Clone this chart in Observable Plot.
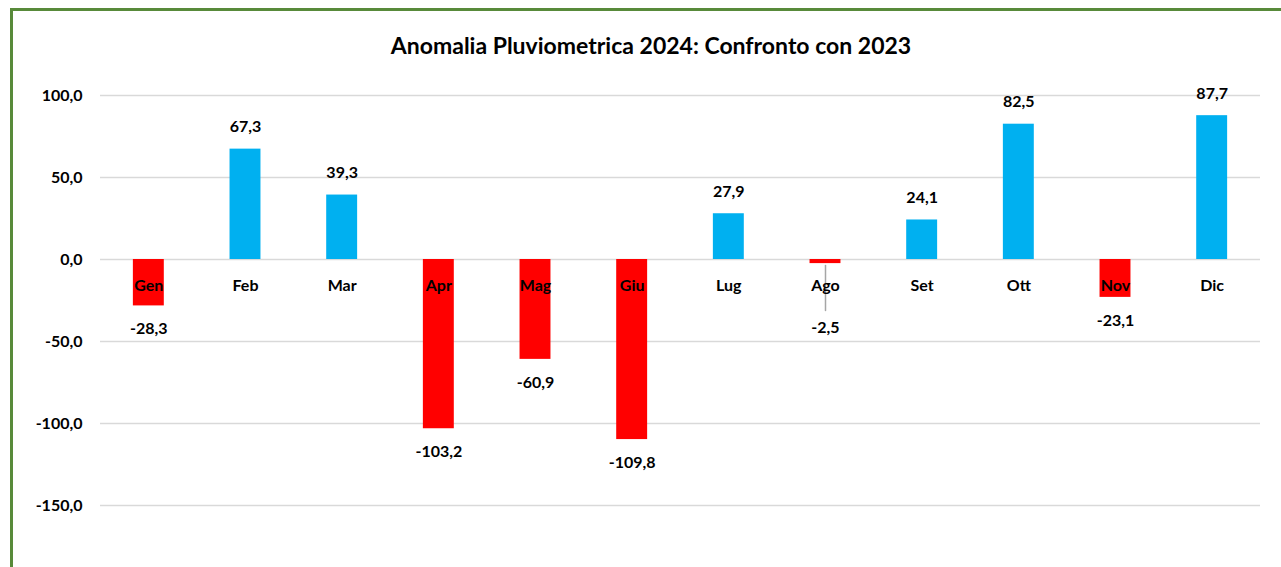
<!DOCTYPE html>
<html>
<head>
<meta charset="utf-8">
<script src="https://cdn.jsdelivr.net/npm/d3@7"></script>
<script src="https://cdn.jsdelivr.net/npm/@observablehq/plot@0.6"></script>
<style>
  html, body { margin: 0; padding: 0; background: #fff; overflow: hidden; }
  #wrap { position: relative; width: 1281px; height: 567px; font-family: Lato, "Open Sans", sans-serif; }
  #frame { position: absolute; left: 10px; top: 8px; width: 1300px; height: 600px;
           border-left: 3px solid #588A3A; border-top: 3px solid #588A3A; box-sizing: border-box; }
  #title { position: absolute; top: 31px; left: 0; width: 1302px; text-align: center;
           font-size: 23px; font-weight: bold; color: #000; line-height: 28px; }
  #chart { position: absolute; left: 0; top: 0; }
</style>
</head>
<body>
<div id="wrap">
  <div id="chart"></div>
  <div id="frame"></div>
  <div id="title">Anomalia Pluviometrica 2024: Confronto con 2023</div>
</div>
<script>
const months = ["Gen","Feb","Mar","Apr","Mag","Giu","Lug","Ago","Set","Ott","Nov","Dic"];
const anomalies = [-28.3, 67.3, 39.3, -103.2, -60.9, -109.8, 27.9, -2.5, 24.1, 82.5, -23.1, 87.7];
const yTicks = [-150, -100, -50, 0, 50, 100];

const data = months.map((m, i) => ({month: m, value: anomalies[i]}));
const fmt = v => v.toFixed(1).replace(".", ",");
const pos = data.filter(d => d.value >= 0);
const neg = data.filter(d => d.value < 0 && d.value <= -5);
const small = data.filter(d => d.value < 0 && d.value > -5);

const leader = {
  draw(context, l) { context.moveTo(0, 0); context.lineTo(0, -l); }
};

const chart = Plot.plot({
  width: 1281,
  height: 567,
  marginLeft: 100,
  marginRight: 21,
  marginTop: 95,
  marginBottom: 62,
  style: {fontFamily: "Lato, 'Open Sans', sans-serif", background: "transparent"},
  x: {domain: months, paddingInner: 0.68, paddingOuter: 0.34, round: false, axis: null},
  y: {domain: [-150, 100], axis: null, label: null},
  marks: [
    Plot.gridY(yTicks, {stroke: "#D9D9D9", strokeOpacity: 1, strokeWidth: 1.5}),
    Plot.axisY({ticks: yTicks, tickSize: 0, tickPadding: 18, tickFormat: fmt, label: null,
                fontSize: 16, fontWeight: "bold", fill: "#000"}),
    Plot.barY(data, {x: "month", y: "value", fill: d => d.value >= 0 ? "#00B0F0" : "#FF0000"}),
    Plot.vector(small, {x: "month", y: "value", length: 45, rotate: 180, anchor: "start",
                        shape: leader, stroke: "#A6A6A6", strokeWidth: 1.5, dy: 2}),
    Plot.text(data, {x: "month", y: () => 0, text: "month", dy: 26,
                     fontSize: 16, fontWeight: "bold", fill: "#000"}),
    Plot.text(pos, {x: "month", y: "value", text: d => fmt(d.value), dy: -22,
                    fontSize: 16, fontWeight: "bold", fill: "#000"}),
    Plot.text(neg, {x: "month", y: "value", text: d => fmt(d.value), dy: 23,
                    fontSize: 16, fontWeight: "bold", fill: "#000"}),
    Plot.text(small, {x: "month", y: "value", text: d => fmt(d.value), dy: 64,
                      fontSize: 16, fontWeight: "bold", fill: "#000"})
  ]
});
document.getElementById("chart").appendChild(chart);
</script>
</body>
</html>
